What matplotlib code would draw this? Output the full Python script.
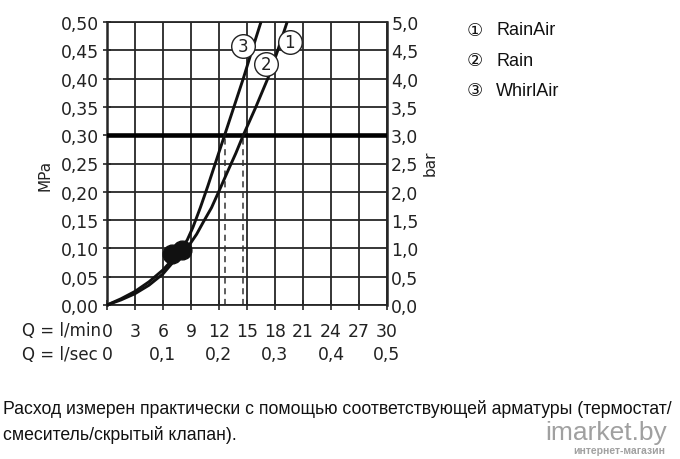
import numpy as np
import matplotlib
matplotlib.use("Agg")
import matplotlib.pyplot as plt

# flow in l/min, pressure in MPa
whirl_q = [0, 1.5, 3, 4.5, 6, 7, 7.7, 8.0, 8.6, 9.2, 10.0, 10.8, 11.6, 12.6, 13.6, 14.6, 15.5, 16.4, 16.5]
whirl_p = [0, 0.011, 0.024, 0.041, 0.062, 0.080, 0.092, 0.100, 0.115, 0.137, 0.172, 0.210, 0.250, 0.300, 0.350, 0.400, 0.448, 0.495, 0.50]

rain_q = [0, 1.5, 3, 4.5, 6, 7.3, 8.2, 8.9, 9.6, 10.3, 11.2, 12.1, 12.9, 13.8, 14.6, 15.9, 17.3, 18.3, 19.3]
rain_p = [0, 0.009, 0.020, 0.035, 0.055, 0.080, 0.097, 0.108, 0.125, 0.146, 0.172, 0.205, 0.235, 0.268, 0.300, 0.348, 0.403, 0.450, 0.50]

blob_q = [7.0, 8.0]
blob_p = [0.090, 0.097]

ref_p = 0.30
ref_q = [12.6, 14.6]

lpm_ticks = list(range(0, 31, 3))
lps_ticks = [0, 6, 12, 18, 24, 30]
lps_labels = ["0", "0,1", "0,2", "0,3", "0,4", "0,5"]
mpa_ticks = [i * 0.05 for i in range(11)]
mpa_labels = ["%.2f" % v for v in mpa_ticks]
bar_labels = ["%.1f" % (v * 10) for v in mpa_ticks]

label_pos = {"3": (14.6, 0.458), "1": (19.6, 0.464), "2": (17.0, 0.426)}
legend_names = [("\u2460", "RainAir"), ("\u2461", "Rain"), ("\u2462", "WhirlAir")]

grid_c = "#262626"
tick_font = "DejaVu Sans"
txt_font = ["Liberation Sans", "DejaVu Sans"]
tfs = 12.4

fig = plt.figure(figsize=(6.8, 4.6), dpi=100)
ax = fig.add_axes([107 / 680, 1 - 306 / 460, 280 / 680, 283 / 460])

ax.set_xlim(0, 30)
ax.set_ylim(0, 0.5)
ax.set_xticks(lpm_ticks)
ax.set_xticklabels([str(t) for t in lpm_ticks], fontfamily=tick_font, fontsize=tfs)
ax.set_yticks(mpa_ticks)
ax.set_yticklabels([s.replace(".", ",") for s in mpa_labels], fontfamily=tick_font, fontsize=tfs)
ax.grid(True, color=grid_c, lw=1.3)
ax.set_axisbelow(True)
ax.tick_params(axis="x", direction="inout", length=7, width=1.2, color=grid_c, pad=9, labelcolor="#222")
ax.tick_params(axis="y", direction="inout", length=6, width=1.2, color=grid_c, pad=3, labelcolor="#222")
for s in ax.spines.values():
    s.set_color(grid_c)
    s.set_linewidth(1.3)
ax.spines["left"].set_linewidth(1.8)
ax.spines["right"].set_linewidth(1.8)

ax2 = ax.twinx()
ax2.set_ylim(0, 0.5)
ax2.set_yticks(mpa_ticks)
ax2.set_yticklabels([s.replace(".", ",") for s in bar_labels], fontfamily=tick_font, fontsize=tfs, color="#222")
ax2.tick_params(axis="y", length=0, pad=3)
for s in ax2.spines.values():
    s.set_visible(False)

ax.axhline(ref_p, color="black", lw=3.3, zorder=3)
for q in ref_q:
    ax.plot([q, q], [0, ref_p], color="#333", lw=1.1, ls=(0, (4, 3)), zorder=2)

ax.plot(rain_q, rain_p, color="#111", lw=2.1, zorder=4, solid_capstyle="butt", clip_on=False)
ax.plot(whirl_q, whirl_p, color="#111", lw=2.1, zorder=4, solid_capstyle="butt", clip_on=False)
ax.plot(blob_q, blob_p, "o", color="#111", ms=13.5, zorder=5)

for num, (q, p) in label_pos.items():
    ax.plot(q, p, "o", ms=17, mfc="white", mec="#222", mew=1.0, zorder=6)
    ax.text(q, p, num, ha="center", va="center", fontsize=12, fontfamily=tick_font, color="#222", zorder=7)

# second row of x labels (l/sec)
for q, lab in zip(lps_ticks, lps_labels):
    ax.text(q, -0.173, lab, transform=ax.get_xaxis_transform(), ha="center", va="center",
            fontsize=tfs, fontfamily=tick_font, color="#222")
ax.text(-0.022, -0.088, "Q = l/min", transform=ax.transAxes, ha="right", va="center",
        fontsize=12, fontfamily=tick_font, color="#222")
ax.text(-0.033, -0.173, "Q = l/sec", transform=ax.transAxes, ha="right", va="center",
        fontsize=12, fontfamily=tick_font, color="#222")

ax.text(-0.221, 0.463, "MPa", transform=ax.transAxes, rotation=90, ha="center", va="center",
        fontsize=11, fontfamily=tick_font, color="#222")
ax.text(1.154, 0.505, "bar", transform=ax.transAxes, rotation=90, ha="center", va="center",
        fontsize=11, fontfamily=tick_font, color="#222")

for i, (sym, name) in enumerate(legend_names):
    y = 1 - (31 + 30 * i) / 460
    fig.text(467 / 680, y, sym, ha="left", va="center", fontsize=13, fontfamily="DejaVu Sans", color="#111")
    fig.text(496 / 680, y, name, ha="left", va="center", fontsize=13, fontfamily=txt_font, color="#111")

fig.text(3 / 680, 1 - 409 / 460, "Расход измерен практически с помощью соответствующей арматуры (термостат/",
         ha="left", va="center", fontsize=12.7, fontfamily=txt_font, color="#111")
fig.text(3 / 680, 1 - 435 / 460, "смеситель/скрытый клапан).",
         ha="left", va="center", fontsize=12.7, fontfamily=txt_font, color="#111")

fig.text(667 / 680, 1 - 433 / 460, "imarket.by", ha="right", va="center", fontsize=19,
         fontfamily=txt_font, color="#a0a0a0", zorder=0)
fig.text(665 / 680, 1 - 451 / 460, "интернет-магазин", ha="right", va="center", fontsize=7.5,
         fontweight="bold", fontfamily=txt_font, color="#a0a0a0", zorder=0)

fig.savefig("out.png", dpi=100)
